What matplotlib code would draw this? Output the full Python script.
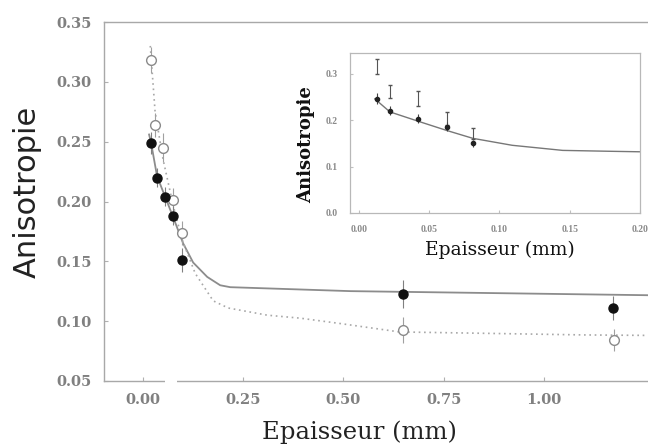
import matplotlib
matplotlib.use("Agg")
import matplotlib.pyplot as plt

# ---- main panel data ----
filled_x = [0.020, 0.035, 0.055, 0.075, 0.0975, 0.6475, 1.1725]
filled_y = [0.249, 0.220, 0.204, 0.188, 0.151, 0.1226, 0.1109]
filled_err = [0.009, 0.008, 0.008, 0.008, 0.010, 0.012, 0.010]

open_x = [0.020, 0.030, 0.050, 0.075, 0.0975, 0.6475, 1.1750]
open_y = [0.318, 0.264, 0.245, 0.201, 0.174, 0.0925, 0.0841]
open_err = [0.011, 0.010, 0.012, 0.010, 0.010, 0.011, 0.009]

fit_solid_x = [0.015, 0.020, 0.035, 0.055, 0.075, 0.100, 0.125, 0.160, 0.1925, 0.2175, 0.5175, 1.30]
fit_solid_y = [0.256, 0.249, 0.221, 0.204, 0.187, 0.165, 0.149, 0.137, 0.130, 0.1284, 0.1251, 0.1215]

fit_dot_x = [0.018, 0.030, 0.050, 0.075, 0.0975, 0.130, 0.175, 0.2125, 0.310, 0.3925, 0.4925, 0.640, 1.100, 1.30]
fit_dot_y = [0.330, 0.275, 0.235, 0.197, 0.168, 0.140, 0.117, 0.111, 0.105, 0.1025, 0.098, 0.091, 0.0885, 0.088]

main_xticks = [0.00, 0.25, 0.50, 0.75, 1.00]
main_yticks = [0.05, 0.10, 0.15, 0.20, 0.25, 0.30, 0.35]

# ---- inset data ----
in_filled_x = [0.0128, 0.022, 0.042, 0.0624, 0.081]
in_filled_y = [0.246, 0.2205, 0.203, 0.186, 0.150]
in_filled_err = [0.012, 0.010, 0.010, 0.010, 0.008]
in_open_x = [0.0128, 0.022, 0.042, 0.0624, 0.081]
in_open_y = [0.315, 0.263, 0.246, 0.203, 0.171]
in_open_err = [0.016, 0.014, 0.016, 0.014, 0.012]
in_fit_x = [0.0113, 0.022, 0.043, 0.0624, 0.081, 0.109, 0.145, 0.180, 0.200]
in_fit_y = [0.246, 0.218, 0.197, 0.178, 0.161, 0.146, 0.135, 0.133, 0.132]
in_xticks = [0.00, 0.05, 0.10, 0.15, 0.20]
in_yticks = [0.0, 0.1, 0.2, 0.3]

tickgray = "#808080"
W, H = 648, 447

fig = plt.figure(figsize=(6.48, 4.47), dpi=100)
ax = fig.add_axes([104/W, 66/H, (661-104)/W, (381-22)/H])
ax.set_xlim(-0.0975, 1.2925)
ax.set_ylim(0.05, 0.35)

ax.plot(fit_solid_x, fit_solid_y, color="#8c8c8c", lw=1.3, zorder=2)
ax.plot(fit_dot_x, fit_dot_y, color="#a8a8a8", lw=1.2, ls=(0, (1, 2.2)), zorder=2)
ax.errorbar(open_x, open_y, yerr=open_err, fmt="o", ms=7, mfc="white", mec="#8a8a8a",
            mew=1.0, ecolor="#a0a0a0", elinewidth=0.8, capsize=0, zorder=3)
ax.errorbar(filled_x, filled_y, yerr=filled_err, fmt="o", ms=6.5, mfc="#111111", mec="#111111",
            ecolor="#808080", elinewidth=0.8, capsize=0, zorder=4)

for s in ["top", "left", "bottom"]:
    ax.spines[s].set_color("#a8a8a8")
    ax.spines[s].set_linewidth(1.0)
ax.spines["right"].set_visible(False)
ax.set_xticks(main_xticks)
ax.set_xticklabels([f"{v:.2f}" for v in main_xticks])
ax.set_yticks(main_yticks)
ax.set_yticklabels([f"{v:.2f}" for v in main_yticks])
ax.tick_params(direction="in", length=3, color="#b0b0b0", labelcolor=tickgray,
               labelsize=10.5, pad=9)
for lab in ax.get_xticklabels() + ax.get_yticklabels():
    lab.set_family("DejaVu Serif")
    lab.set_fontweight("bold")
fig.text(359/W, 1 - 432/H, "Epaisseur (mm)", family="DejaVu Serif", fontsize=17.5,
         color="#222222", ha="center", va="center")
fig.text(27/W, 1 - 192/H, "Anisotropie", family="DejaVu Sans", fontsize=22,
         color="#222222", ha="center", va="center", rotation=90)

# gap in the bottom axis line
ax.plot([0.055, 0.085], [0.05, 0.05], color="white", lw=3, clip_on=False, zorder=5,
        solid_capstyle="butt")

# ---- inset ----
ia = fig.add_axes([350/W, (H-213)/H, (640-350)/W, (213-53)/H])
ia.set_xlim(-0.0064, 0.1993)
ia.set_ylim(0.0, 0.345)
ia.plot(in_fit_x, in_fit_y, color="#777777", lw=1.0, zorder=2)
ia.errorbar(in_open_x, in_open_y, yerr=in_open_err, fmt="none", ecolor="#555555",
            elinewidth=0.8, capsize=1.5, zorder=3)
ia.errorbar(in_filled_x, in_filled_y, yerr=in_filled_err, fmt="o", ms=3, mfc="#222222",
            mec="#222222", ecolor="#444444", elinewidth=0.8, capsize=0, zorder=4)
for s in ia.spines.values():
    s.set_color("#b8b8b8")
    s.set_linewidth(0.9)
ia.set_xticks(in_xticks)
ia.set_xticklabels([f"{v:.2f}" for v in in_xticks])
ia.set_yticks(in_yticks)
ia.set_yticklabels([f"{v:.1f}" for v in in_yticks])
ia.tick_params(direction="in", length=2, color="#c0c0c0", labelcolor="#8a8a8a",
               labelsize=7, pad=9)
for lab in ia.get_xticklabels() + ia.get_yticklabels():
    lab.set_family("Liberation Serif")
    lab.set_fontweight("bold")
fig.text(500/W, 1 - 250/H, "Epaisseur (mm)", family="DejaVu Serif", fontsize=13.5,
         color="#111111", ha="center", va="center")
fig.text(306/W, 1 - 145/H, "Anisotropie", family="DejaVu Serif", fontsize=13,
         color="#111111", fontweight="bold", ha="center", va="center", rotation=90)

fig.savefig("out.png", dpi=100)
